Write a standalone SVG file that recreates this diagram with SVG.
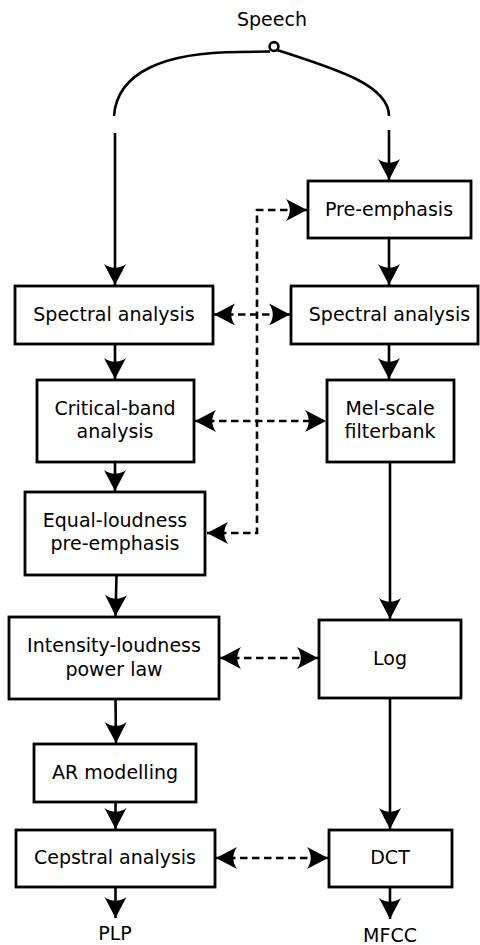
<svg xmlns="http://www.w3.org/2000/svg" width="480" height="945" viewBox="0 0 480 945">
  <style>
    .box { fill: #fff; stroke: #000; stroke-width: 2.8; }
    .lbl { font-family: "DejaVu Sans", "Liberation Sans", sans-serif; font-size: 19px; fill: #000; text-anchor: middle; }
    .wire { fill: none; stroke: #000; stroke-width: 2.6; }
    .solid { marker-end: url(#head); }
    .dash { stroke-dasharray: 7.5 4.5; marker-start: url(#head); marker-end: url(#head); }
  </style>
  <defs>
    <marker id="head" markerUnits="userSpaceOnUse" viewBox="-22 -12 23 24" refX="0" refY="0" markerWidth="23" markerHeight="24" orient="auto-start-reverse">
      <path d="M0,0 L-21,-11 C-16,-4 -16,4 -21,11 Z" fill="#000"/>
    </marker>
  </defs>

  <text class="lbl" x="272" y="26">Speech</text>

  <!-- connectors -->
  <g id="connectors">
    <!-- split of the speech signal -->
    <path class="wire" d="M114,116 C117,72 165,52 240,52 L270,51.5"/>
    <circle class="wire" cx="274" cy="46.5" r="4.4"/>
    <path class="wire" d="M277,50 C340,70 389,86 389,116"/>
    <path class="wire solid" d="M115,133 V285"/>
    <path class="wire solid" d="M389,130 V180"/>

    <!-- PLP chain -->
    <path class="wire solid" d="M115,344 V379"/>
    <path class="wire solid" d="M115,462 V491"/>
    <path class="wire solid" d="M116.5,575 L115.5,616"/>
    <path class="wire solid" d="M115.5,699 L116,743"/>
    <path class="wire solid" d="M115.5,802 V829"/>
    <path class="wire solid" d="M115.5,887 V918"/>

    <!-- MFCC chain -->
    <path class="wire solid" d="M389,238 V285"/>
    <path class="wire solid" d="M389,344 V379"/>
    <path class="wire solid" d="M390,462 V619"/>
    <path class="wire solid" d="M390,698 V829"/>
    <path class="wire solid" d="M390,887 V919"/>

    <!-- correspondences -->
    <path class="wire dash" d="M207,533 H257 V210 H307"/>
    <path class="wire dash" d="M214,314.5 H290"/>
    <path class="wire dash" d="M195,421 H326"/>
    <path class="wire dash" d="M220,658 H318"/>
    <path class="wire dash" d="M216,858 H328"/>
  </g>

  <!-- PLP column -->
  <g id="spectral-plp">
    <rect class="box" x="15" y="286" width="198" height="58"/>
    <text class="lbl" x="114" y="321">Spectral analysis</text>
  </g>
  <g id="critical-band">
    <rect class="box" x="37" y="380" width="157" height="82"/>
    <text class="lbl" x="115" y="415">Critical-band</text>
    <text class="lbl" x="115" y="438">analysis</text>
  </g>
  <g id="equal-loudness">
    <rect class="box" x="25" y="492" width="180" height="83"/>
    <text class="lbl" x="115" y="527">Equal-loudness</text>
    <text class="lbl" x="115" y="550">pre-emphasis</text>
  </g>
  <g id="intensity-loudness">
    <rect class="box" x="9" y="617" width="210" height="82"/>
    <text class="lbl" x="114" y="652">Intensity-loudness</text>
    <text class="lbl" x="114" y="676">power law</text>
  </g>
  <g id="ar-modelling">
    <rect class="box" x="34" y="744" width="162" height="58"/>
    <text class="lbl" x="115" y="779">AR modelling</text>
  </g>
  <g id="cepstral">
    <rect class="box" x="16" y="830" width="199" height="57"/>
    <text class="lbl" x="115" y="864">Cepstral analysis</text>
  </g>
  <text class="lbl" x="115" y="940">PLP</text>

  <!-- MFCC column -->
  <g id="pre-emphasis">
    <rect class="box" x="308" y="181" width="163" height="57"/>
    <text class="lbl" x="389" y="216">Pre-emphasis</text>
  </g>
  <g id="spectral-mfcc">
    <rect class="box" x="291" y="286" width="187" height="58"/>
    <text class="lbl" x="389.5" y="321">Spectral analysis</text>
  </g>
  <g id="mel-filterbank">
    <rect class="box" x="327" y="380" width="127" height="82"/>
    <text class="lbl" x="390" y="415">Mel-scale</text>
    <text class="lbl" x="390" y="438">filterbank</text>
  </g>
  <g id="log">
    <rect class="box" x="319" y="620" width="142" height="78"/>
    <text class="lbl" x="390" y="665">Log</text>
  </g>
  <g id="dct">
    <rect class="box" x="329" y="830" width="123" height="57"/>
    <text class="lbl" x="390" y="864">DCT</text>
  </g>
  <text class="lbl" x="390" y="942">MFCC</text>
</svg>
